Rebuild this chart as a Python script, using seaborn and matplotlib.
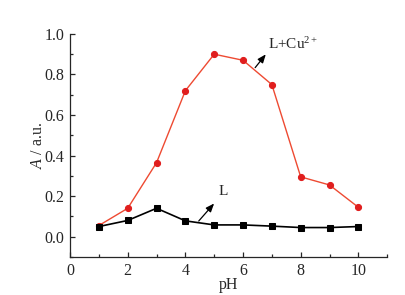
import matplotlib
matplotlib.use("Agg")
import matplotlib.pyplot as plt
from matplotlib.ticker import MultipleLocator
import seaborn as sns
import pandas as pd

ph = [1, 2, 3, 4, 5, 6, 7, 8, 9, 10]
a_cu = [0.055, 0.14, 0.365, 0.72, 0.90, 0.87, 0.75, 0.295, 0.255, 0.145]
a_l = [0.05, 0.08, 0.14, 0.078, 0.058, 0.058, 0.052, 0.045, 0.045, 0.05]

sns.set_style("ticks")
plt.rcParams['font.family'] = ['Liberation Serif', 'DejaVu Serif']
plt.rcParams['mathtext.fontset'] = 'custom'
plt.rcParams['mathtext.rm'] = 'Liberation Serif'
plt.rcParams['mathtext.it'] = 'Liberation Serif:italic'

df = pd.DataFrame({"pH": ph, "cu": a_cu, "l": a_l})

fig = plt.figure(figsize=(4.05, 2.95), dpi=100)
ax = fig.add_axes([0.173, 0.129, 0.783, 0.756])

sns.lineplot(data=df, x="pH", y="cu", ax=ax, color="#ee4a32", linewidth=1.0,
             marker="o", markersize=4.4, markerfacecolor="#e01e1e",
             markeredgecolor="#e01e1e")
sns.lineplot(data=df, x="pH", y="l", ax=ax, color="black", linewidth=1.2,
             marker="s", markersize=4.0, markerfacecolor="black",
             markeredgecolor="black")

ax.set_xlim(0, 11)
ax.set_ylim(-0.1, 1.0)
ax.xaxis.set_major_locator(MultipleLocator(2))
ax.xaxis.set_minor_locator(MultipleLocator(1))
ax.yaxis.set_major_locator(MultipleLocator(0.2))
ax.yaxis.set_minor_locator(MultipleLocator(0.1))
ax.set_xticks([0, 2, 4, 6, 8, 10])
ax.set_yticks([0.0, 0.2, 0.4, 0.6, 0.8, 1.0])
ax.set_yticklabels(["0.0", "0.2", "0.4", "0.6", "0.8", "1.0"])
ax.tick_params(which="major", direction="in", length=3.5, width=0.9, labelsize=11.5, pad=4)
ax.tick_params(which="minor", direction="in", length=2, width=0.9)
ax.spines["top"].set_visible(False)
ax.spines["right"].set_visible(False)
for s in ("left", "bottom"):
    ax.spines[s].set_linewidth(0.9)

ax.set_xlabel("pH", fontsize=11.5, labelpad=-1)
ax.set_ylabel(r"$\mathit{A}$ / a.u.", fontsize=11.5, labelpad=-1)

ax.annotate("", xy=(6.85, 0.91), xytext=(6.36, 0.823),
            arrowprops=dict(arrowstyle="-|>,head_length=0.5,head_width=0.2", color="black", lw=0.9))
ax.text(6.85, 0.95, r"L+Cu$^{2+}$", fontsize=11, ha="left", va="center")
ax.annotate("", xy=(5.06, 0.174), xytext=(4.40, 0.067),
            arrowprops=dict(arrowstyle="-|>,head_length=0.5,head_width=0.2", color="black", lw=0.9))
ax.text(5.15, 0.225, "L", fontsize=11, ha="left", va="center")

fig.savefig("out.png", dpi=100)
